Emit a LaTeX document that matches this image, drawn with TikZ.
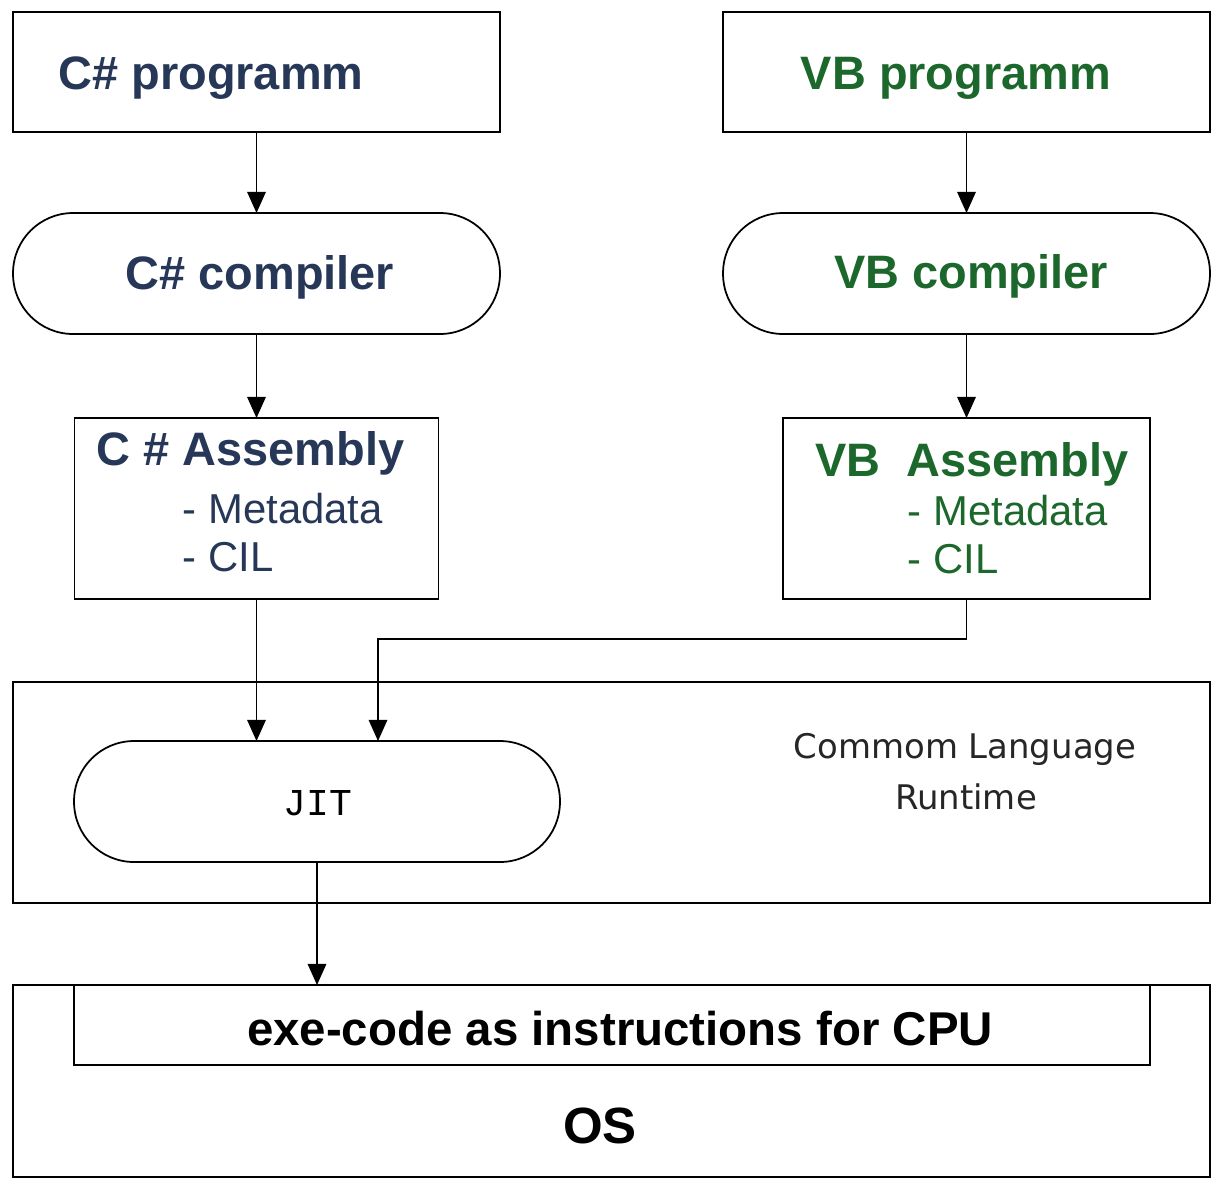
\documentclass[tikz,border=0pt]{standalone}
\usepackage{fontspec}
\setmainfont{Liberation Sans}
\newfontfamily\clrfont{DejaVu Sans}
\newfontfamily\jitfont{Liberation Mono}
\usetikzlibrary{arrows.meta,calc}
\definecolor{navy}{RGB}{38,55,88}
\definecolor{vbgreen}{RGB}{28,104,44}
\begin{document}
\begin{tikzpicture}[x=0.02cm,y=-0.02cm,
  line width=1pt,
  box/.style={draw,inner sep=0pt,outer sep=0pt},
  stadium/.style={draw,inner sep=0pt,outer sep=0pt,rounded corners=1.2cm},
  arr/.style={-{Triangle[length=12pt,width=10.5pt]}},
  bigtxt/.style={font=\fontsize{26.7pt}{30pt}\selectfont\bfseries,anchor=base,inner sep=0pt},
  subtxt/.style={font=\fontsize{23.8pt}{27pt}\selectfont,anchor=base west,inner sep=0pt},
  clrtxt/.style={font=\fontsize{19.3pt}{22pt}\selectfont\clrfont,anchor=base,inner sep=0pt,text=black!85},
]
\useasboundingbox (0,0) rectangle (1216,1184);
% shapes
\node[box,minimum width=9.74cm,minimum height=2.4cm] (cprog) at (256.5,72) {};
\node[box,minimum width=9.74cm,minimum height=2.4cm] (vprog) at (966.5,72) {};
\node[stadium,minimum width=9.74cm,minimum height=2.42cm] (ccomp) at (256.5,273.5) {};
\node[stadium,minimum width=9.74cm,minimum height=2.42cm] (vcomp) at (966.5,273.5) {};
\node[box,minimum width=7.28cm,minimum height=3.62cm] (casm) at (256.5,508.5) {};
\node[box,minimum width=7.34cm,minimum height=3.62cm] (vasm) at (966.5,508.5) {};
\node[box,minimum width=23.94cm,minimum height=4.42cm] (clr) at (611.5,792.5) {};
\node[stadium,minimum width=9.72cm,minimum height=2.42cm] (jit) at (317,801.5) {};
\node[box,minimum width=23.94cm,minimum height=3.84cm] (os) at (611.5,1081) {};
\node[box,minimum width=21.52cm,minimum height=1.6cm] (exe) at (612,1025) {};
% texts
\node[bigtxt,text=navy] (tcprog) at (211,89) {C\# programm};
\node[bigtxt,text=vbgreen] (tvprog) at (956,89) {VB programm};
\node[bigtxt,text=navy] (tccomp) at (260,289) {C\# compiler};
\node[bigtxt,text=vbgreen] (tvcomp) at (971,288) {VB compiler};
\node[bigtxt,text=navy] (tcasm) at (250.5,465) {C \# Assembly};
\node[subtxt,text=navy] (tcmeta) at (182,523) {- Metadata};
\node[subtxt,text=navy] (tccil) at (182,571) {- CIL};
\node[bigtxt,text=vbgreen] (tvasm) at (972,476) {VB\ \ Assembly};
\node[subtxt,text=vbgreen] (tvmeta) at (907,525) {- Metadata};
\node[subtxt,text=vbgreen] (tvcil) at (907,573) {- CIL};
\node[clrtxt] (tclr1) at (965,758) {Commom Language};
\node[clrtxt] (tclr2) at (966,809) {Runtime};
\node[font=\fontsize{21.6pt}{24pt}\selectfont\jitfont,anchor=base,inner sep=0pt] (tjit) at (318,815) {JIT};
\node[font=\fontsize{27pt}{30pt}\selectfont\bfseries,anchor=base,inner sep=0pt] (texe) at (620,1045) {exe-code as instructions for CPU};
\node[font=\fontsize{29pt}{32pt}\selectfont\bfseries,anchor=base,inner sep=0pt] (tos) at (600,1143) {OS};
% connectors
\coordinate (vin) at (378,741);
\draw[arr] (cprog.south) -- (ccomp.north);
\draw[arr] (vprog.south) -- (vcomp.north);
\draw[arr] (ccomp.south) -- (casm.north);
\draw[arr] (vcomp.south) -- (vasm.north);
\draw[arr] (casm.south) -- (casm.south |- jit.north);
\draw[arr] (vasm.south) -- ++(0,40) -| (vin);
\draw[arr] (jit.south) -- (jit.south |- exe.north);
\end{tikzpicture}
\end{document}
